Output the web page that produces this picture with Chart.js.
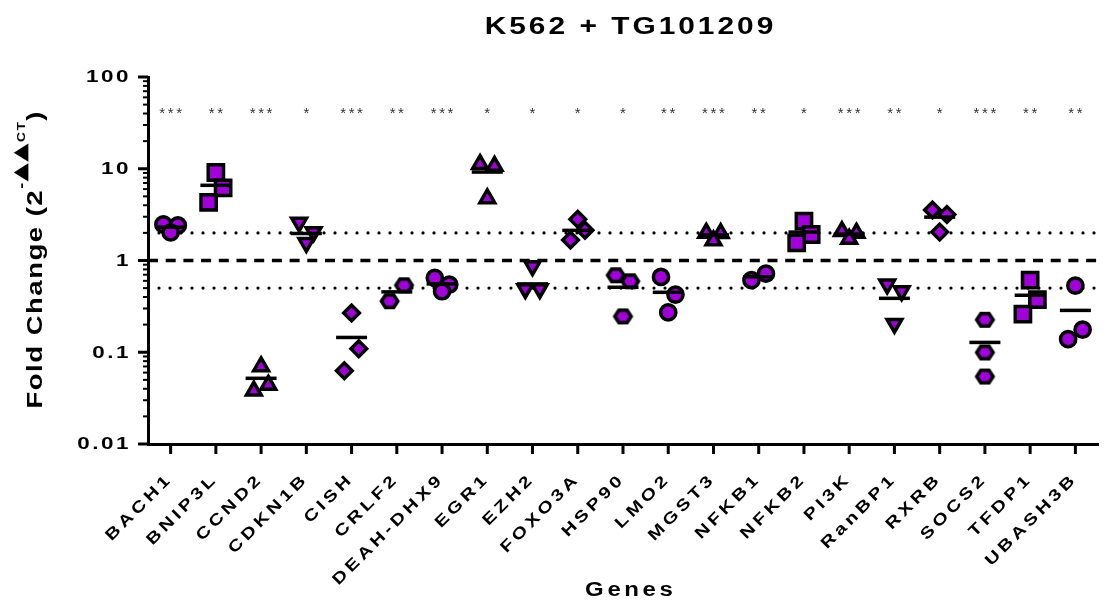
<!DOCTYPE html>
<html>
<head>
<meta charset="utf-8">
<title>K562 + TG101209</title>
<script src="https://cdn.jsdelivr.net/npm/chart.js@4.4.1/dist/chart.umd.min.js"></script>
<style>
  html, body { margin: 0; padding: 0; background: #fff; }
  canvas { display: block; }
</style>
</head>
<body>
<canvas id="grafica" width="1117" height="601"></canvas>
<script>
// datos
const genes = ['BACH1', 'BNIP3L', 'CCND2', 'CDKN1B', 'CISH', 'CRLF2', 'DEAH-DHX9', 'EGR1', 'EZH2', 'FOXO3A',
    'HSP90', 'LMO2', 'MGST3', 'NFKB1', 'NFKB2', 'PI3K', 'RanBP1', 'RXRB', 'SOCS2', 'TFDP1', 'UBASH3B'];

const valores = [
    [2.47, 2.41, 2.02],
    [9.1, 6.2, 4.3],
    [0.070, 0.044, 0.038],
    [2.6, 2.05, 1.56],
    [0.268, 0.109, 0.063],
    [0.537, 0.36],
    [0.647, 0.547, 0.462],
    [11.2, 10.7, 4.75],
    [0.87, 0.49, 0.49],
    [2.81, 2.14, 1.67],
    [0.69, 0.594, 0.246],
    [0.663, 0.425, 0.272],
    [2.0, 1.98, 1.65],
    [0.72, 0.61],
    [2.69, 1.92, 1.56],
    [2.08, 2.0, 1.72],
    [0.55, 0.465, 0.205],
    [3.55, 3.18, 2.04],
    [0.226, 0.0995, 0.0544],
    [0.61, 0.375, 0.261],
    [0.533, 0.176, 0.139]
];

const medias = [2.31, 6.6, 0.052, 1.97, 0.145, 0.455, 0.556, 9.2, 0.556, 2.13,
    0.511, 0.45, 1.9, 0.665, 2.04, 1.94, 0.387, 2.97, 0.128, 0.418, 0.286];

const significancia = ['***', '**', '***', '*', '***', '**', '***', '*', '*', '*',
    '*', '**', '***', '**', '*', '***', '**', '*', '***', '**', '**'];

const umbrales = [2, 1, 0.5];
const ticksY = [0.01, 0.1, 1, 10, 100];
const etiquetasY = ['0.01', '0.1', '1', '10', '100'];

// estilo
const formas = ['circle', 'rect', 'triangle', 'invTriangle', 'rectRot', 'hexagon', 'circle', 'triangle', 'invTriangle', 'rectRot',
    'hexagon', 'circle', 'triangle', 'circle', 'rect', 'triangle', 'invTriangle', 'rectRot', 'hexagon', 'rect', 'circle'];
const MORADO = '#a200da';
const FUENTE = '"Liberation Sans", Arial, sans-serif';
const PX_DECADA = 91.5;
const SEPARACION = 23;
const DESP = 0.16;
const NIVEL_ASTERISCOS = 45;
const BORDE = 3.5;

function hexagono() {
    const c = document.createElement('canvas');
    c.width = 23; c.height = 20;
    const g = c.getContext('2d');
    const cx = 11.5, cy = 10, R = 8.2, H = 6.2;
    g.beginPath();
    g.moveTo(cx - R, cy);
    g.lineTo(cx - R / 2, cy - H);
    g.lineTo(cx + R / 2, cy - H);
    g.lineTo(cx + R, cy);
    g.lineTo(cx + R / 2, cy + H);
    g.lineTo(cx - R / 2, cy + H);
    g.closePath();
    g.fillStyle = MORADO;
    g.fill();
    g.lineWidth = BORDE;
    g.lineJoin = 'miter';
    g.strokeStyle = '#000';
    g.stroke();
    return c;
}
const imgHexagono = hexagono();

function estiloPunto(forma) {
    if (forma === 'hexagon') return { style: imgHexagono, r: 9, rot: 0 };
    if (forma === 'invTriangle') return { style: 'triangle', r: 8.5, rot: 180 };
    if (forma === 'triangle') return { style: 'triangle', r: 8.5, rot: 0 };
    if (forma === 'rect') return { style: 'rect', r: 10.8, rot: 0 };
    if (forma === 'rectRot') return { style: 'rectRot', r: 7.8, rot: 0 };
    return { style: 'circle', r: 7.6, rot: 0 };
}

// separa horizontalmente los puntos que se tocan
function desplazamientos(vals) {
    const n = vals.length;
    const orden = vals.map((v, i) => i).sort((a, b) => vals[b] - vals[a]);
    const px = i => Math.log10(vals[i]) * PX_DECADA;
    const off = new Array(n).fill(0);
    if (n === 2) {
        if (px(orden[0]) - px(orden[1]) < SEPARACION) {
            off[orden[0]] = DESP;
            off[orden[1]] = -DESP;
        }
    } else if (n === 3) {
        const g1 = px(orden[0]) - px(orden[1]);
        const g2 = px(orden[1]) - px(orden[2]);
        if (Math.min(g1, g2) < SEPARACION) {
            off[orden[1]] = DESP;
            if (g1 < g2) off[orden[0]] = -DESP; else off[orden[2]] = -DESP;
        }
    }
    return off;
}

function textoEspaciado(ctx, segmentos, x, y, o) {
    ctx.save();
    ctx.translate(x, y);
    if (o.angulo) ctx.rotate(o.angulo);
    ctx.scale(o.estirar || 1, 1);
    ctx.fillStyle = o.color || '#000';
    ctx.textAlign = 'left';
    ctx.textBaseline = o.base || 'alphabetic';
    const sp = o.espacio || 0;
    const piezas = [];
    segmentos.forEach(s => {
        ctx.font = s.font;
        Array.from(s.t).forEach(ch => piezas.push({ ch, font: s.font, sube: s.sube || 0, w: ctx.measureText(ch).width }));
    });
    const total = piezas.reduce((a, p) => a + p.w, 0) + sp * (piezas.length - 1);
    let cx = o.align === 'center' ? -total / 2 : o.align === 'right' ? -total : 0;
    piezas.forEach(p => {
        ctx.font = p.font;
        ctx.fillText(p.ch, cx, -p.sube);
        cx += p.w + sp;
    });
    ctx.restore();
}

const lineasReferencia = {
    id: 'lineasReferencia',
    beforeDatasetsDraw(chart) {
        const { ctx, chartArea } = chart;
        const escY = chart.scales.y;
        umbrales.forEach(u => {
            const y = escY.getPixelForValue(u);
            ctx.save();
            ctx.beginPath();
            ctx.strokeStyle = '#000';
            if (u === 1) {
                ctx.lineWidth = 3.5;
                ctx.setLineDash([10, 7.7]);
                ctx.lineCap = 'butt';
            } else {
                ctx.lineWidth = 3.2;
                ctx.setLineDash([0, 11]);
                ctx.lineCap = 'round';
            }
            ctx.moveTo(chartArea.left, y);
            ctx.lineTo(chartArea.right, y);
            ctx.stroke();
            ctx.restore();
        });
    }
};

const textos = {
    id: 'textos',
    afterDraw(chart) {
        const { ctx, chartArea } = chart;
        const escX = chart.scales.x;
        const escY = chart.scales.y;

        // marcas del eje y (mayores y menores)
        ctx.save();
        ctx.strokeStyle = '#000';
        for (let e = -2; e <= 2; e++) {
            for (let d = 1; d <= 9; d++) {
                const v = d * Math.pow(10, e);
                if (v > 100.0001) continue;
                const y = escY.getPixelForValue(v);
                ctx.beginPath();
                ctx.lineWidth = d === 1 ? 3 : 2;
                ctx.moveTo(chartArea.left - (d === 1 ? 10 : 5), y);
                ctx.lineTo(chartArea.left, y);
                ctx.stroke();
            }
        }
        // marcas del eje x
        genes.forEach((g, i) => {
            const x = escX.getPixelForValue(i);
            ctx.beginPath();
            ctx.lineWidth = 3;
            ctx.moveTo(x, chartArea.bottom);
            ctx.lineTo(x, chartArea.bottom + 10);
            ctx.stroke();
        });
        ctx.restore();

        ticksY.forEach((v, i) => {
            textoEspaciado(ctx, [{ t: etiquetasY[i], font: 'bold 16px ' + FUENTE }],
                128.5, escY.getPixelForValue(v) + 1, { align: 'right', base: 'middle', estirar: 1.4, espacio: 1.8 });
        });

        genes.forEach((g, i) => {
            const x = escX.getPixelForValue(i);
            textoEspaciado(ctx, [{ t: g, font: 'bold 16px ' + FUENTE }],
                x - 3, 479, { align: 'right', base: 'middle', angulo: -Math.PI / 4, estirar: 1.25, espacio: 3 });
            textoEspaciado(ctx, [{ t: significancia[i], font: '15px ' + FUENTE }],
                x, escY.getPixelForValue(NIVEL_ASTERISCOS) + 9, { align: 'center', color: '#333', espacio: 2.6 });
        });

        textoEspaciado(ctx, [{ t: 'K562 + TG101209', font: 'bold 23px ' + FUENTE }],
            629, 34, { align: 'center', estirar: 1.3, espacio: 2.3 });

        textoEspaciado(ctx, [{ t: 'Genes', font: 'bold 20px ' + FUENTE }],
            629, 596, { align: 'center', estirar: 1.2, espacio: 3 });

        textoEspaciado(ctx, [
            { t: 'Fold Change (2', font: 'bold 22px ' + FUENTE },
            { t: '-', font: 'bold 14px ' + FUENTE, sube: 16 },
            { t: '\u25B2\u25B2', font: 'bold 19px "DejaVu Sans", sans-serif', sube: 16 },
            { t: 'CT', font: 'bold 11px ' + FUENTE, sube: 17 },
            { t: ')', font: 'bold 22px ' + FUENTE }
        ], 42, 260, { align: 'center', angulo: -Math.PI / 2, estirar: 1.25, espacio: 1.2 });
    }
};

const conjuntos = genes.map((g, i) => {
    const off = desplazamientos(valores[i]);
    const est = estiloPunto(formas[i]);
    return {
        label: g,
        data: valores[i].map((v, k) => ({ x: i + off[k], y: v })),
        pointStyle: est.style,
        pointRadius: est.r,
        pointRotation: est.rot,
        pointBackgroundColor: MORADO,
        pointBorderColor: '#000',
        pointBorderWidth: BORDE,
        clip: false,
        order: 1
    };
});

conjuntos.unshift({
    label: 'Media',
    data: medias.map((m, i) => ({ x: i, y: m })),
    pointStyle: 'line',
    pointRadius: 15.5,
    pointBorderWidth: 3.5,
    pointBorderColor: '#000',
    clip: false,
    order: 0
});

const configGenes = {
    type: 'scatter',
    data: { datasets: conjuntos },
    options: {
        responsive: false,
        animation: false,
        events: [],
        layout: { padding: { top: 77, right: 2, left: 0, bottom: 0 } },
        plugins: { legend: { display: false }, tooltip: { enabled: false } },
        scales: {
            x: {
                type: 'linear',
                min: -0.5,
                max: 20.5,
                ticks: { display: false },
                grid: { display: true, drawOnChartArea: false, drawTicks: false },
                border: { display: true, color: '#000', width: 3 },
                afterFit(s) { s.height = 157; }
            },
            y: {
                type: 'logarithmic',
                min: 0.01,
                max: 100,
                ticks: { display: false },
                grid: { display: true, drawOnChartArea: false, drawTicks: false },
                border: { display: true, color: '#000', width: 3 },
                afterFit(s) { s.width = 148; }
            }
        }
    },
    plugins: [lineasReferencia, textos]
};

const graficaGenes = new Chart(document.getElementById('grafica'), configGenes);
</script>
</body>
</html>
